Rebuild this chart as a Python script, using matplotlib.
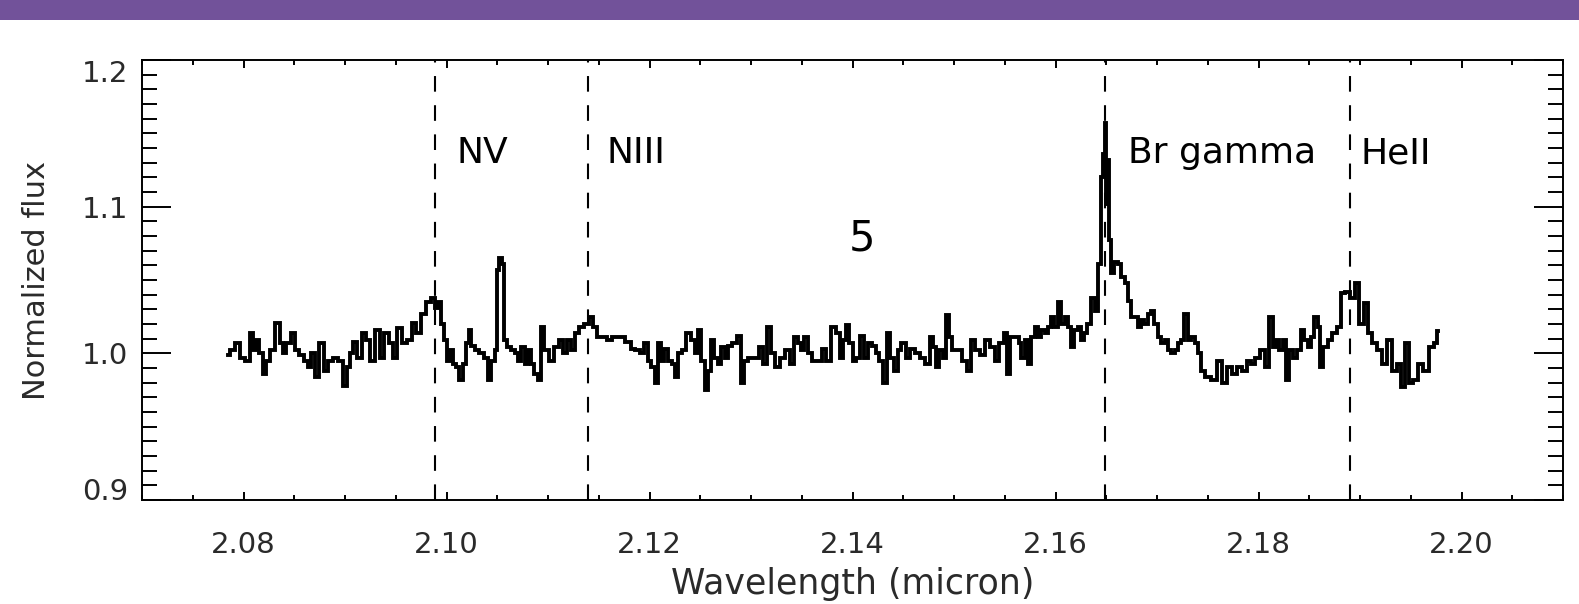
import matplotlib
matplotlib.use('Agg')
import matplotlib.pyplot as plt
from matplotlib.ticker import FixedLocator, MultipleLocator

# Spectrum (wavelength in micron, normalized flux)
wavelength = [
    2.0785, 2.0789, 2.0794, 2.0799, 2.0804, 2.0808, 2.0811, 2.0814, 2.0817, 2.0821,
    2.0824, 2.0829, 2.0834, 2.0837, 2.0840, 2.0844, 2.0849, 2.0852, 2.0857, 2.0862,
    2.0865, 2.0868, 2.0872, 2.0877, 2.0881, 2.0886, 2.0891, 2.0896, 2.0900, 2.0903,
    2.0906, 2.0909, 2.0914, 2.0919, 2.0922, 2.0927, 2.0932, 2.0936, 2.0941, 2.0946,
    2.0949, 2.0954, 2.0959, 2.0964, 2.0968, 2.0972,
    2.0978, 2.0982, 2.0987, 2.0990, 2.0993, 2.0996, 2.1000, 2.1001, 2.1005, 2.1008,
    2.1011, 2.1014, 2.1018, 2.1021, 2.1023, 2.1026, 2.1031, 2.1034, 2.1039, 2.1042,
    2.1046, 2.1049, 2.1051, 2.1053, 2.1056, 2.1058, 2.1062, 2.1065, 2.1069, 2.1072,
    2.1075, 2.1079, 2.1082, 2.1085, 2.1088, 2.1092, 2.1095, 2.1098, 2.1103, 2.1108,
    2.1113, 2.1116, 2.1121, 2.1124, 2.1129, 2.1133, 2.1138, 2.1143, 2.1146, 2.1151,
    2.1156, 2.1161, 2.1166,
    2.1172, 2.1179, 2.1184, 2.1188, 2.1193, 2.1197, 2.1200, 2.1203, 2.1207, 2.1210,
    2.1213, 2.1216, 2.1220, 2.1225, 2.1226, 2.1230, 2.1234, 2.1238, 2.1243, 2.1246,
    2.1249, 2.1253, 2.1256, 2.1259, 2.1262, 2.1266, 2.1269, 2.1272, 2.1276, 2.1279,
    2.1284, 2.1289, 2.1292, 2.1295, 2.1300, 2.1305, 2.1310, 2.1313, 2.1318, 2.1322,
    2.1326, 2.1331, 2.1336, 2.1340, 2.1345, 2.1348, 2.1351, 2.1354, 2.1358, 2.1363,
    2.1367, 2.1372, 2.1376, 2.1381, 2.1386, 2.1389, 2.1392, 2.1395, 2.1399, 2.1402,
    2.1405, 2.1410, 2.1413, 2.1417, 2.1422, 2.1425, 2.1428, 2.1432, 2.1435, 2.1438,
    2.1443, 2.1446, 2.1450, 2.1455, 2.1459, 2.1464, 2.1469, 2.1474, 2.1478, 2.1481,
    2.1484, 2.1487, 2.1491, 2.1494, 2.1497, 2.1500, 2.1505, 2.1510, 2.1515, 2.1519,
    2.1523, 2.1528, 2.1533, 2.1538, 2.1542, 2.1547, 2.1551, 2.1553, 2.1558, 2.1563,
    2.1565, 2.1568, 2.1571, 2.1574, 2.1578, 2.1581, 2.1584, 2.1588, 2.1591, 2.1594,
    2.1597, 2.1601, 2.1604, 2.1607, 2.1611, 2.1614, 2.1617, 2.1620, 2.1624, 2.1627,
    2.1630, 2.1633, 2.1637, 2.1640, 2.1643, 2.1646, 2.1648, 2.1649, 2.1650, 2.1652,
    2.1654, 2.1656, 2.1660, 2.1663, 2.1666, 2.1670, 2.1673, 2.1676, 2.1680, 2.1683,
    2.1686, 2.1689, 2.1693, 2.1696, 2.1699, 2.1702, 2.1706, 2.1709, 2.1712, 2.1716,
    2.1719, 2.1722, 2.1725, 2.1729, 2.1732, 2.1735, 2.1739, 2.1742, 2.1745, 2.1750,
    2.1757,
    2.1762, 2.1767, 2.1771, 2.1776, 2.1781, 2.1786, 2.1791, 2.1794, 2.1799, 2.1804,
    2.1808, 2.1812, 2.1816, 2.1819, 2.1822, 2.1826, 2.1829, 2.1832, 2.1835, 2.1840,
    2.1843, 2.1847, 2.1850, 2.1853, 2.1857, 2.1860, 2.1862, 2.1866, 2.1870, 2.1875,
    2.1880, 2.1883, 2.1888, 2.1893, 2.1897, 2.1901, 2.1906, 2.1909, 2.1914, 2.1919,
    2.1924, 2.1929, 2.1934, 2.1939, 2.1942, 2.1946, 2.1950, 2.1955, 2.1960, 2.1965,
    2.1970, 2.1975, 2.1977,
]
flux = [
    0.999, 1.002, 1.007, 0.997, 0.995, 1.014, 1.002, 1.009, 1.000, 0.986,
    0.995, 1.002, 1.021, 1.007, 1.000, 1.007, 1.014, 1.002, 0.999, 0.995,
    0.991, 1.000, 0.984, 1.007, 0.988, 0.995, 0.997, 0.995, 0.978, 0.991,
    1.000, 1.008, 0.997, 1.014, 1.009, 0.995, 1.016, 0.997, 1.014, 1.007,
    0.997, 1.017, 1.007, 1.009, 1.021, 1.014,
    1.027, 1.035, 1.038, 1.031, 1.035, 1.020, 1.009, 0.995, 1.002, 0.993,
    0.991, 0.982, 0.993, 1.007, 1.016, 1.005, 1.002, 1.000, 0.997, 0.982,
    0.995, 1.002, 1.057, 1.065, 1.061, 1.009, 1.004, 1.002, 1.000, 0.995,
    1.004, 0.993, 1.002, 0.993, 0.986, 0.982, 1.018, 1.002, 0.995, 1.004,
    1.009, 1.000, 1.009, 1.002, 1.014, 1.018, 1.020, 1.025, 1.018, 1.011,
    1.011, 1.009, 1.011,
    1.011, 1.008, 1.003, 1.002, 1.000, 1.007, 0.995, 0.991, 0.980, 1.007,
    0.995, 1.003, 0.995, 0.993, 0.984, 1.000, 1.002, 1.014, 1.009, 1.000,
    1.016, 0.995, 0.975, 0.988, 1.009, 0.997, 0.993, 1.004, 0.997, 1.005,
    1.007, 1.012, 0.980, 0.995, 0.997, 0.997, 1.004, 0.993, 1.018, 1.000,
    0.991, 0.997, 1.002, 0.993, 1.011, 1.007, 1.002, 1.011, 1.000, 0.995,
    0.995, 1.003, 0.995, 1.018, 1.014, 0.997, 1.009, 1.019, 1.007, 0.995,
    0.997, 1.012, 0.997, 1.007, 1.005, 1.000, 0.995, 0.980, 1.014, 0.997,
    0.988, 1.002, 1.007, 0.997, 1.003, 1.000, 0.997, 0.993, 1.011, 1.004,
    0.991, 1.002, 0.997, 1.026, 1.011, 1.002, 1.002, 0.995, 0.988, 1.009,
    1.002, 0.999, 1.009, 1.004, 0.995, 1.007, 1.014, 0.986, 1.011, 1.011,
    1.007, 0.997, 1.009, 0.993, 1.011, 1.018, 1.011, 1.016, 1.014, 1.018,
    1.025, 1.018, 1.035, 1.020, 1.025, 1.018, 1.004, 1.016, 1.018, 1.009,
    1.014, 1.020, 1.038, 1.029, 1.061, 1.120, 1.136, 1.157, 1.102, 1.132,
    1.077, 1.055, 1.062, 1.061, 1.052, 1.048, 1.036, 1.025, 1.025, 1.018,
    1.023, 1.020, 1.027, 1.029, 1.020, 1.011, 1.007, 1.009, 1.002, 1.000,
    1.002, 1.007, 1.009, 1.027, 1.009, 1.011, 1.007, 1.000, 0.988, 0.984,
    0.982,
    0.995, 0.980, 0.991, 0.986, 0.991, 0.988, 0.995, 0.993, 0.997, 1.002,
    0.991, 1.025, 1.004, 1.009, 1.002, 1.009, 0.982, 1.002, 0.997, 1.002,
    1.016, 1.009, 1.004, 1.011, 1.025, 1.018, 0.991, 1.004, 1.009, 1.014,
    1.018, 1.041, 1.042, 1.038, 1.048, 1.020, 1.034, 1.014, 1.007, 1.002,
    0.993, 1.009, 0.988, 0.993, 0.977, 1.007, 0.980, 0.982, 0.993, 0.988,
    1.004, 1.007, 1.015,
]

# Line markers and their labels
line_positions = [2.0989, 2.1139, 2.1649, 2.1890]
line_labels = ['NV', 'NIII', 'Br gamma', 'HeII']
label_offsets = [2.1010, 2.1158, 2.1671, 2.1900]

x_ticks = [2.08, 2.10, 2.12, 2.14, 2.16, 2.18, 2.20]
x_tick_labels = ['2.08', '2.10', '2.12', '2.14', '2.16', '2.18', '2.20']
y_ticks = [0.9, 1.0, 1.1, 1.2]
y_tick_labels = ['0.9', '1.0', '1.1', '1.2']

fig = plt.figure(figsize=(15.79, 6.04), dpi=100)
fig.patch.set_facecolor('white')

# purple header band at the top
band = fig.add_axes([0, 1 - 20 / 604, 1, 20 / 604])
band.set_facecolor('#72529a')
band.set_xticks([])
band.set_yticks([])
for s in band.spines.values():
    s.set_visible(False)

ax = fig.add_axes([142 / 1579, 104 / 604, 1421 / 1579, 440 / 604])

ax.plot(wavelength, flux, color='black', lw=2.8, drawstyle='steps-mid',
        solid_joinstyle='miter')

for pos in line_positions:
    ax.axvline(pos, color='black', lw=1.5, dashes=(7.5, 6.5))

for lab, xpos in zip(line_labels, label_offsets):
    ax.text(xpos, 1.1295, lab, fontsize=26, color='black', va='baseline', ha='left')

ax.text(2.1409, 1.070, '5', fontsize=30, color='black', va='baseline', ha='center')

ax.set_xlim(2.07, 2.21)
ax.set_ylim(0.9, 1.2)

ax.xaxis.set_major_locator(FixedLocator(x_ticks))
ax.set_xticklabels(x_tick_labels)
ax.xaxis.set_minor_locator(MultipleLocator(0.005))
ax.yaxis.set_major_locator(FixedLocator(y_ticks))
ax.set_yticklabels(y_tick_labels)
ax.yaxis.set_minor_locator(MultipleLocator(0.01))

ax.tick_params(axis='both', which='both', direction='in', top=True, right=True,
               width=1.4, colors='black', labelcolor='#2a2a2a', labelsize=21)
ax.tick_params(axis='x', which='major', length=6, pad=22)
ax.tick_params(axis='x', which='minor', length=3.6)
ax.tick_params(axis='y', which='major', length=21, pad=10)
ax.tick_params(axis='y', which='minor', length=10.5)

for s in ax.spines.values():
    s.set_linewidth(1.4)

# IDL keeps the end labels inside the frame
yl = ax.get_yticklabels()
yl[0].set_verticalalignment('baseline')
yl[-1].set_verticalalignment('top')

ax.set_xlabel('Wavelength (micron)', fontsize=25, color='#2a2a2a', labelpad=6)
ax.set_ylabel('Normalized flux', fontsize=22, color='#2a2a2a', labelpad=22)

fig.savefig('out.png', dpi=100)
